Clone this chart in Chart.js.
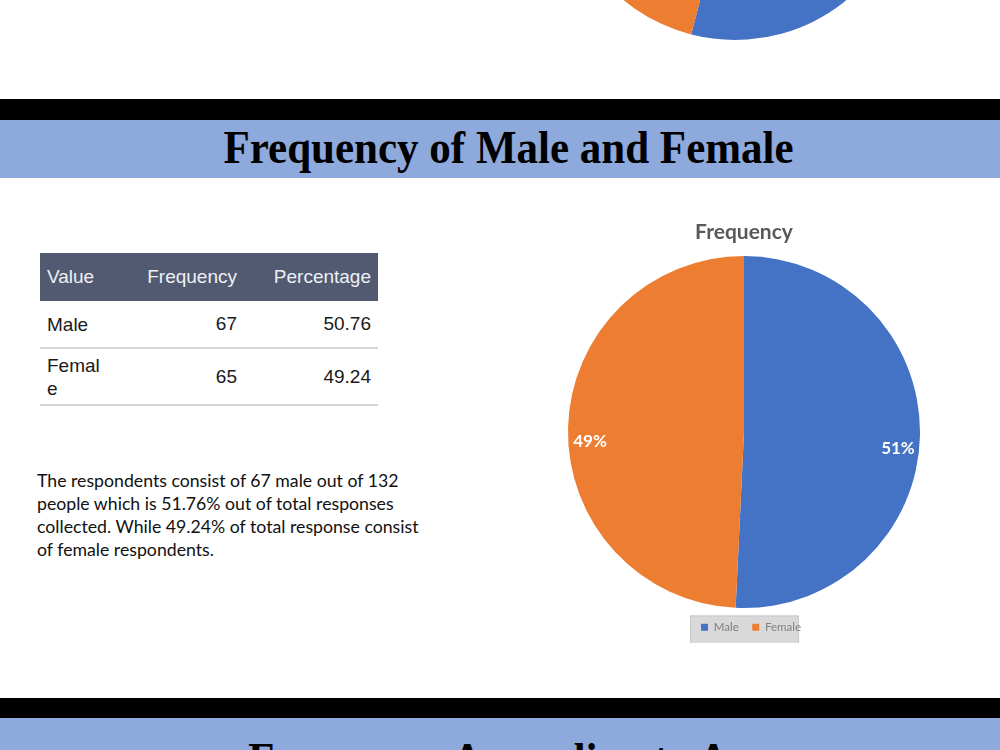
<!DOCTYPE html>
<html>
<head>
<meta charset="utf-8">
<script src="https://cdn.jsdelivr.net/npm/chart.js@4.4.1/dist/chart.umd.min.js"></script>
<style>
  html, body { margin:0; padding:0; background:#fff; width:1000px; height:750px; overflow:hidden; position:relative; }
  .abs { position:absolute; }
  .black { left:0; width:1000px; background:#000; }
  .band { left:0; width:1000px; background:#8EA9DB; overflow:hidden; }
  .htitle { position:absolute; left:9px; width:1000px; text-align:center; font-family:"Liberation Serif", "DejaVu Serif", serif; font-weight:bold; font-size:47px; color:#000; white-space:nowrap; }
  .htitle span { display:inline-block; transform:scaleX(0.915); transform-origin:center; }
  table { border-collapse:collapse; table-layout:fixed; font-family:"Liberation Sans", Arial, sans-serif; font-size:19px; color:#1a1a1a; }
  th { background:#525A72; color:#eef0f4; font-weight:normal; height:48px; padding:0 7px; }
  td { padding:0 7px; border-bottom:2px solid #d6d6d6; }
  .para { font-family:Lato, "Open Sans", sans-serif; font-size:17.7px; line-height:23px; color:#111; white-space:nowrap; }
</style>
</head>
<body>
<div class="abs black" style="top:99px;height:21px;"></div>
<div class="abs band" style="top:120px;height:58px;">
  <div class="htitle" style="top:0px;"><span id="sectionTitle"></span></div>
</div>
<div class="abs black" style="top:698px;height:20px;"></div>
<div class="abs band" style="top:718px;height:32px;">
  <div class="htitle" style="top:14px;"><span id="nextTitle"></span></div>
</div>

<div class="abs" style="left:547px;top:-324px;width:376px;height:376px;">
  <canvas id="prevPie" width="376" height="376"></canvas>
</div>

<div class="abs" style="left:40px;top:253px;">
  <table id="tbl">
    <colgroup><col style="width:100px"><col style="width:104px"><col style="width:134px"></colgroup>
    <thead><tr id="thead"></tr></thead>
    <tbody id="tbody"></tbody>
  </table>
</div>

<div class="abs para" id="para" style="left:37px;top:469px;"></div>

<div class="abs" style="left:544px;top:212px;width:400px;height:431px;">
  <canvas id="pie" width="400" height="431"></canvas>
</div>

<script>
// ---- data ----
const sectionTitle = "Frequency of Male and Female";
const nextSectionTitle = "Frequency According to Age";
const categories = ["Male", "Female"];
const frequencies = [67, 65];
const percentages = ["50.76", "49.24"];
const tableHeaders = ["Value", "Frequency", "Percentage"];
const chartTitle = "Frequency";
const pieLabels = ["51%", "49%"];
const colors = ["#4472C4", "#ED7D31"];
// partially visible pie from the previous section (estimated shares)
const prevCategories = ["A", "B"];
const prevValues = [54, 46];
const paragraphLines = [
  "The respondents consist of 67 male out of 132",
  "people which is 51.76% out of total responses",
  "collected. While 49.24% of total response consist",
  "of female respondents."
];

document.getElementById('sectionTitle').textContent = sectionTitle;
document.getElementById('nextTitle').textContent = nextSectionTitle;

// table
const thead = document.getElementById('thead');
tableHeaders.forEach((h, i) => {
  const th = document.createElement('th');
  th.textContent = h;
  th.style.textAlign = i === 0 ? 'left' : 'right';
  thead.appendChild(th);
});
const tbody = document.getElementById('tbody');
categories.forEach((c, i) => {
  const tr = document.createElement('tr');
  const cells = [c, String(frequencies[i]), percentages[i]];
  cells.forEach((v, j) => {
    const td = document.createElement('td');
    td.textContent = v;
    td.style.textAlign = j === 0 ? 'left' : 'right';
    if (j === 0) { td.style.wordBreak = 'break-all'; td.style.paddingRight = '38px'; td.style.lineHeight = '23px'; }
    tr.appendChild(td);
  });
  tr.style.height = i === 0 ? '47px' : '57px';
  tbody.appendChild(tr);
});

// paragraph
document.getElementById('para').innerHTML = paragraphLines.map(l => l.replace(/&/g,'&amp;')).join('<br>');

// plugins
const LEGEND_SHIFT = 7;
const legendBg = {
  id: 'legendBg',
  afterUpdate(chart) {
    const lg = chart.legend;
    if (!lg) return;
    lg.left += LEGEND_SHIFT; lg.right += LEGEND_SHIFT;
    (lg.legendHitBoxes || []).forEach(h => { h.left += LEGEND_SHIFT; });
  },
  beforeDraw(chart) {
    const lg = chart.legend;
    if (!lg || !lg.legendHitBoxes || !lg.legendHitBoxes.length) return;
    const hb = lg.legendHitBoxes;
    const first = hb[0], last = hb[hb.length - 1];
    const ctx = chart.ctx;
    ctx.save();
    ctx.fillStyle = '#d9d9d9';
    const x0 = first.left - 11, x1 = last.left + last.width - 2;
    const y0 = first.top - 6, y1 = first.top + first.height + 16;
    ctx.fillRect(x0, y0, x1 - x0, y1 - y0);
    ctx.strokeStyle = '#c8c8c8';
    ctx.lineWidth = 1;
    ctx.strokeRect(x0 + 0.5, y0 + 0.5, x1 - x0 - 1, y1 - y0 - 1);
    ctx.restore();
  }
};
const sliceLabels = {
  id: 'sliceLabels',
  afterDatasetsDraw(chart) {
    const meta = chart.getDatasetMeta(0);
    const ctx = chart.ctx;
    ctx.save();
    ctx.font = 'bold 17px Lato, "Open Sans", sans-serif';
    ctx.fillStyle = '#ffffff';
    ctx.textAlign = 'center';
    ctx.textBaseline = 'middle';
    meta.data.forEach((arc, i) => {
      const p = arc.getProps(['x','y','startAngle','endAngle','outerRadius'], true);
      const mid = (p.startAngle + p.endAngle) / 2;
      const r = p.outerRadius * 0.875;
      ctx.fillText(pieLabels[i], p.x + Math.cos(mid) * r, p.y + Math.sin(mid) * r + 13);
    });
    ctx.restore();
  }
};

new Chart(document.getElementById('pie'), {
  type: 'pie',
  data: {
    labels: categories,
    datasets: [{ data: frequencies, backgroundColor: colors, borderWidth: 0 }]
  },
  options: {
    responsive: false,
    animation: false,
    layout: { padding: 0 },
    plugins: {
      title: {
        display: true, text: chartTitle, color: '#595959',
        font: { family: 'Lato, "Open Sans", sans-serif', size: 21, weight: 'bold' },
        padding: { top: 8, bottom: 10.8 }
      },
      legend: {
        display: true, position: 'bottom',
        labels: {
          boxWidth: 7, boxHeight: 7, padding: 13.5, color: '#7f7f7f',
          font: { family: 'Lato, "Open Sans", sans-serif', size: 11.5 }
        }
      },
      tooltip: { enabled: false }
    }
  },
  plugins: [legendBg, sliceLabels]
});

new Chart(document.getElementById('prevPie'), {
  type: 'pie',
  data: {
    labels: prevCategories,
    datasets: [{ data: prevValues, backgroundColor: colors, borderWidth: 0 }]
  },
  options: {
    responsive: false,
    animation: false,
    layout: { padding: 12 },
    plugins: { legend: { display: false }, title: { display: false }, tooltip: { enabled: false } }
  }
});
</script>
</body>
</html>
